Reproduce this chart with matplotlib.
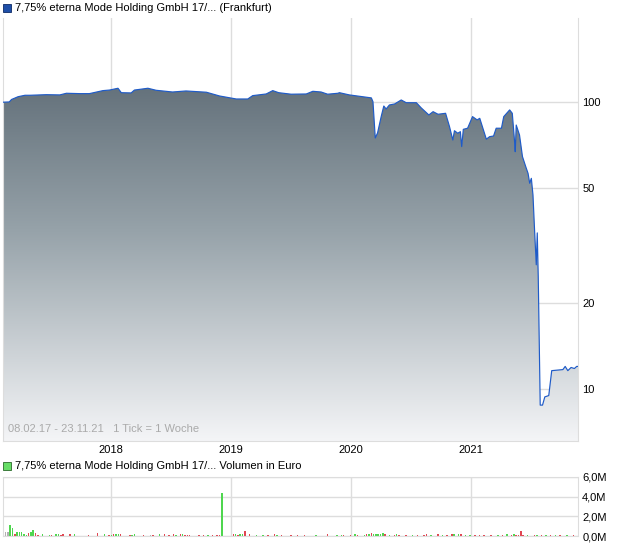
import pandas as pd
import matplotlib
matplotlib.use("Agg")
import matplotlib.pyplot as plt
import numpy as np
from matplotlib.colors import LinearSegmentedColormap
from matplotlib.patches import Rectangle

plt.rcParams['font.family'] = ['Liberation Sans', 'DejaVu Sans']

# price series (Frankfurt)
price_dates = ["2017-02-08", "2017-02-26", "2017-03-05", "2017-03-25", "2017-04-15", "2017-04-30",
               "2017-06-19", "2017-07-30", "2017-08-19", "2017-09-28", "2017-10-28", "2017-12-08",
               "2017-12-28", "2018-01-23", "2018-02-02", "2018-03-04", "2018-03-14", "2018-04-24",
               "2018-05-19", "2018-07-08", "2018-08-18", "2018-10-19", "2018-11-28", "2019-01-18",
               "2019-02-22", "2019-03-09", "2019-04-19", "2019-05-09", "2019-05-27", "2019-07-04",
               "2019-08-19", "2019-09-08", "2019-10-03", "2019-10-23", "2019-11-23", "2019-11-28",
               "2019-12-28", "2020-03-04", "2020-03-09", "2020-03-16", "2020-03-23", "2020-04-03",
               "2020-04-11", "2020-04-18", "2020-04-28", "2020-05-14", "2020-06-03", "2020-06-18",
               "2020-07-19", "2020-08-03", "2020-08-26", "2020-09-08", "2020-09-23", "2020-10-16",
               "2020-10-28", "2020-11-07", "2020-11-12", "2020-11-22", "2020-11-30", "2020-12-04",
               "2020-12-09", "2020-12-22", "2021-01-06", "2021-01-20", "2021-01-28", "2021-02-17",
               "2021-02-27", "2021-03-11", "2021-03-19", "2021-04-04", "2021-04-11", "2021-04-29",
               "2021-05-07", "2021-05-14", "2021-05-16", "2021-05-19", "2021-05-29", "2021-06-07",
               "2021-06-17", "2021-06-24", "2021-06-29", "2021-07-04", "2021-07-09", "2021-07-14",
               "2021-07-19", "2021-07-22", "2021-07-25", "2021-07-29", "2021-07-31", "2021-08-07",
               "2021-08-14", "2021-08-26", "2021-09-04", "2021-10-08", "2021-10-15", "2021-10-23",
               "2021-11-02", "2021-11-12", "2021-11-19", "2021-11-23"]
prices = [99.8, 100, 102, 104.3, 105.5, 105.5,
          106, 105.8, 107.2, 106.9, 106.9, 109.5,
          110, 111.6, 107.7, 107.5, 110, 111.6,
          109.8, 108.3, 109.2, 108.1, 104.9, 102.4,
          102.4, 105.2, 106.6, 109.5, 107.7, 106.4,
          106.6, 108.9, 108.3, 106.4, 107.2, 107.7,
          105.8, 103.3, 100.2, 74.9, 78, 88.9,
          96.8, 94.5, 97.6, 98.4, 101.6, 99.4,
          99.4, 95.3, 90.1, 92.5, 90.6, 91.3,
          82.0, 73.7, 79.4, 77.8, 78.8, 69.9,
          80.3, 81, 88.9, 86.6, 87.7, 74.2,
          75.7, 76.1, 81, 81, 88.9, 93.8,
          91.3, 72.7, 67.1, 83.1, 76.7, 64.5,
          59.5, 56.4, 52.1, 54.2, 47.4, 35.4,
          27.1, 35.0, 24.7, 12.4, 8.8, 8.8,
          9.4, 9.5, 11.6, 11.7, 12.0, 11.6,
          11.9, 11.8, 12.0, 12.0]

# weekly volume in 10k Euro, colour code: g = up, r = down, x = neutral
vol_start = "2017-02-08"
volumes = [79, 38, 38, 110, 79, 17, 38, 38, 38, 17, 10, 28, 38, 59, 28, 7, 5, 17, 5, 5,
           14, 7, 5, 17, 17, 7, 17, 5, 5, 17, 5, 17, 5, 5, 5, 5, 5, 7, 5, 5,
           5, 28, 5, 5, 17, 5, 7, 14, 17, 17, 17, 17, 5, 5, 5, 7, 10, 17, 5, 5,
           5, 7, 5, 5, 14, 7, 5, 5, 17, 5, 17, 5, 7, 5, 17, 10, 5, 17, 17, 7,
           7, 7, 5, 5, 5, 7, 5, 7, 5, 7, 5, 7, 5, 7, 7, 434, 5, 5, 5, 5,
           17, 20, 7, 17, 24, 47, 5, 17, 5, 5, 7, 5, 5, 7, 5, 7, 5, 5, 17, 7,
           5, 7, 5, 5, 5, 7, 5, 5, 7, 5, 5, 7, 5, 5, 5, 5, 7, 5, 5, 5,
           5, 17, 5, 5, 5, 7, 5, 14, 7, 5, 5, 7, 5, 17, 7, 5, 5, 10, 17, 24,
           31, 17, 17, 17, 24, 31, 17, 5, 7, 5, 7, 17, 7, 5, 5, 7, 5, 5, 7, 5,
           7, 5, 5, 7, 17, 5, 7, 5, 5, 17, 5, 14, 5, 7, 5, 17, 17, 5, 17, 24,
           5, 14, 5, 10, 5, 7, 5, 7, 5, 7, 5, 5, 7, 5, 5, 7, 5, 7, 5, 24,
           5, 7, 24, 14, 7, 55, 7, 5, 7, 5, 5, 7, 10, 5, 7, 5, 7, 5, 7, 5,
           10, 5, 7, 5, 5, 7, 5, 5, 7, 5]
vol_colors = ("xxxggrgggggrggrrxgxr" "grxggrrxgrxgxrgxrrxg"
              "rrgxgxrgrggrxxrrggxx" "rrgxxrxxgxrgrxrgxrgr"
              "rrxxgrgrrgrrgrrgxxxx" "rgrggrxrgxggxgxrgxrg"
              "xrxgxrrxrxgrxxxrgxgr" "xrgxggxgrxxrxgrxrgrg"
              "rgggggrxgxrgrxgrxrgx" "rgxrrxgxrrxgxrgrgxgr"
              "xgxgxrrrxrgxrrxgxrxg" "xrgrrrrxgrxrgxrggxrr"
              "gxrrxgrxrg")
year_ticks = ["2018-01-01", "2019-01-01", "2020-01-01", "2021-01-01"]
year_labels = ["2018", "2019", "2020", "2021"]
price_ticks = [10, 20, 50, 100]
vol_ticks = [0, 2e6, 4e6, 6e6]
vol_labels = ["0,0M", "2,0M", "4,0M", "6,0M"]

dates = pd.to_datetime(price_dates)
vol_dates = pd.date_range(vol_start, periods=len(volumes), freq="7D")
xmin, xmax = pd.Timestamp("2017-02-07"), pd.Timestamp("2021-11-23")
grid_c = "#dddddd"

fig = plt.figure(figsize=(6.2, 5.46), dpi=100)
ax = fig.add_axes([3 / 620, 105 / 546, 575 / 620, 423 / 546])
ax.set_yscale("log")
ymin, ymax = 6.6, 196
ax.set_xlim(xmin, xmax)
ax.set_ylim(ymin, ymax)

# gradient fill under the line
poly = ax.fill_between(dates, prices, ymin, facecolor="none", edgecolor="none")
cmap = LinearSegmentedColormap.from_list("g", ["#4d5b66", "#96a2a9", "#f4f5f7"])
grad = np.linspace(0, 1, 256).reshape(-1, 1)
img = ax.imshow(grad, extent=[0, 1, 0, 1], transform=ax.transAxes, aspect="auto",
                cmap=cmap, origin="upper", zorder=2)
img.set_clip_path(poly.get_paths()[0], transform=ax.transData)
ax.set_xlim(xmin, xmax)
ax.set_ylim(ymin, ymax)
ax.plot(dates, prices, color="#1f5bc8", lw=0.85, zorder=3)

ax.set_xticks(pd.to_datetime(year_ticks))
ax.set_xticklabels(year_labels)
ax.set_yticks(price_ticks)
ax.set_yticklabels([str(t) for t in price_ticks])
ax.minorticks_off()
ax.yaxis.tick_right()
ax.tick_params(length=0, labelsize=8, colors="black")
ax.tick_params(axis="x", pad=3)
ax.tick_params(axis="y", pad=3)
ax.grid(True, color=grid_c, lw=1, zorder=0)
ax.set_axisbelow(True)
for s in ["left", "right", "bottom"]:
    ax.spines[s].set_color(grid_c)
ax.spines["top"].set_visible(False)
ax.text(5 / 575, 0.016, "08.02.17 - 23.11.21   1 Tick = 1 Woche", transform=ax.transAxes,
        fontsize=8, color="#aaaaaa", va="bottom", ha="left", zorder=4)

fig.add_artist(Rectangle((3 / 620, 1 - 12 / 546), 8 / 620, 8 / 546, transform=fig.transFigure,
                         facecolor="#1f4fa8", edgecolor="#0d2a66", lw=0.6))
fig.text(15 / 620, 1 - 8 / 546, "7,75% eterna Mode Holding GmbH 17/... (Frankfurt)",
         fontsize=8, va="center", ha="left")

# volume panel
ax2 = fig.add_axes([3 / 620, 10 / 546, 575 / 620, 59 / 546])
cmap_bar = {"g": "#4fd64f", "r": "#e04652", "x": "#b0b0b0"}
ax2.bar(vol_dates, np.array(volumes) * 1e4, width=4.5, linewidth=0,
        color=[cmap_bar[c] for c in vol_colors], zorder=2)
ax2.set_xlim(xmin, xmax)
ax2.set_ylim(0, 6e6)
ax2.set_xticks(pd.to_datetime(year_ticks))
ax2.set_xticklabels([])
ax2.set_yticks(vol_ticks)
ax2.set_yticklabels(vol_labels)
ax2.yaxis.tick_right()
ax2.tick_params(length=0, labelsize=8, colors="black", pad=3)
ax2.grid(True, color=grid_c, lw=1, zorder=0)
ax2.set_axisbelow(True)
for s in ax2.spines.values():
    s.set_color(grid_c)

fig.add_artist(Rectangle((3 / 620, 1 - 470 / 546), 8 / 620, 8 / 546, transform=fig.transFigure,
                         facecolor="#66dd66", edgecolor="#2a6a2a", lw=0.6))
fig.text(15 / 620, 1 - 466 / 546, "7,75% eterna Mode Holding GmbH 17/... Volumen in Euro",
         fontsize=8, va="center", ha="left")

fig.savefig("out.png", dpi=100)
